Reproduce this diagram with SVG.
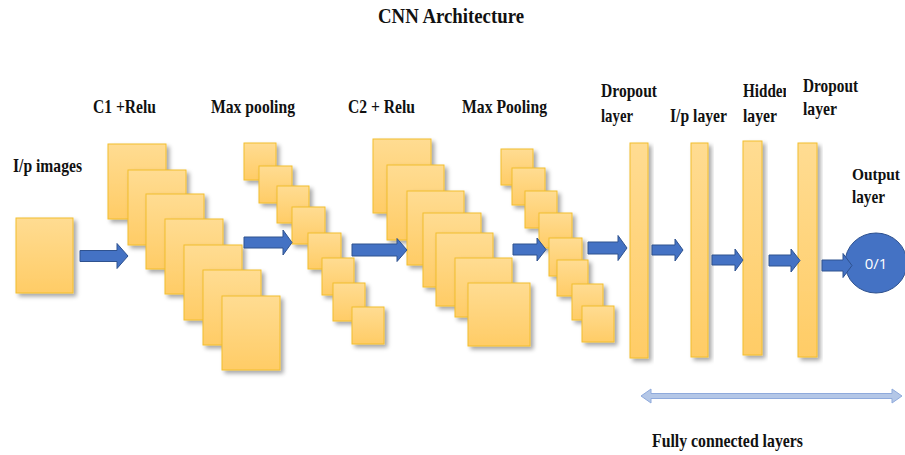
<svg xmlns="http://www.w3.org/2000/svg" width="905" height="455" viewBox="0 0 905 455">
<style>
.lbl{font-family:"Liberation Serif","Times New Roman",serif;font-weight:bold;font-size:19px;fill:#111}
.ttl{font-family:"Liberation Serif","Times New Roman",serif;font-weight:bold;font-size:21px;fill:#111}
.box{fill:url(#gold);stroke:#F2BE2E;stroke-width:1;filter:url(#sh)}
.arr{fill:#4472C4;stroke:#2F528F;stroke-width:1}
.out{fill:#4472C4;stroke:#2F528F;stroke-width:1}
.outt{font-family:"Open Sans","Liberation Sans",sans-serif;font-size:15px;fill:#fff}
.fc{fill:#B4C7E7;stroke:#8FAADC;stroke-width:1}
</style>
<defs>
<linearGradient id="gold" x1="0" y1="0" x2="0" y2="1">
<stop offset="0" stop-color="#FFDC92"/>
<stop offset="1" stop-color="#FFCC66"/>
</linearGradient>
<filter id="sh" x="-20%" y="-20%" width="150%" height="150%">
<feDropShadow dx="3" dy="3" stdDeviation="2" flood-color="#000" flood-opacity="0.35"/>
</filter>
<clipPath id="hidclip"><rect x="700" y="70" width="86" height="40"/></clipPath>
</defs>
<rect width="905" height="455" fill="#fff"/>

<text class="ttl" x="378" y="23" textLength="146" lengthAdjust="spacingAndGlyphs">CNN Architecture</text>

<g id="input">
<rect class="box" x="16" y="218" width="57" height="75"/>
<text class="lbl" x="13" y="172" textLength="69" lengthAdjust="spacingAndGlyphs">I/p images</text>
</g>

<g id="c1">
<text class="lbl" x="93" y="113" textLength="63" lengthAdjust="spacingAndGlyphs">C1 +Relu</text>
<rect class="box" x="108" y="144" width="58" height="75"/>
<rect class="box" x="128" y="170" width="58" height="75"/>
<rect class="box" x="146" y="194" width="58" height="75"/>
<rect class="box" x="165" y="219" width="58" height="75"/>
<rect class="box" x="184" y="245" width="58" height="75"/>
<rect class="box" x="203" y="270" width="58" height="75"/>
<rect class="box" x="222" y="296" width="58" height="74"/>
</g>

<g id="pool1">
<text class="lbl" x="211" y="113" textLength="84" lengthAdjust="spacingAndGlyphs">Max pooling</text>
<rect class="box" x="244" y="143" width="32" height="37"/>
<rect class="box" x="259" y="166" width="33" height="37"/>
<rect class="box" x="277" y="186" width="32" height="37"/>
<rect class="box" x="292" y="207" width="33" height="37"/>
<rect class="box" x="308" y="233" width="33" height="36"/>
<rect class="box" x="322" y="258" width="32" height="37"/>
<rect class="box" x="333" y="283" width="32" height="38"/>
<rect class="box" x="352" y="307" width="32" height="37"/>
</g>

<g id="c2">
<text class="lbl" x="348" y="113" textLength="67" lengthAdjust="spacingAndGlyphs">C2 + Relu</text>
<rect class="box" x="373" y="139" width="58" height="74"/>
<rect class="box" x="387" y="165" width="57" height="75"/>
<rect class="box" x="407" y="191" width="57" height="74"/>
<rect class="box" x="423" y="213" width="58" height="74"/>
<rect class="box" x="436" y="233" width="57" height="73"/>
<rect class="box" x="455" y="258" width="57" height="59"/>
<rect class="box" x="468" y="283" width="62" height="63"/>
</g>

<g id="pool2">
<text class="lbl" x="462" y="113" textLength="85" lengthAdjust="spacingAndGlyphs">Max Pooling</text>
<rect class="box" x="501" y="149" width="32" height="36"/>
<rect class="box" x="512" y="168" width="33" height="37"/>
<rect class="box" x="525" y="191" width="32" height="37"/>
<rect class="box" x="539" y="213" width="33" height="35"/>
<rect class="box" x="549" y="238" width="33" height="38"/>
<rect class="box" x="557" y="260" width="31" height="36"/>
<rect class="box" x="572" y="284" width="31" height="36"/>
<rect class="box" x="582" y="306" width="32" height="36"/>
</g>

<g id="dropout1">
<rect class="box" x="630" y="143" width="18" height="215"/>
<text class="lbl" x="601" y="97" textLength="56" lengthAdjust="spacingAndGlyphs">Dropout</text>
<text class="lbl" x="601" y="122" textLength="32" lengthAdjust="spacingAndGlyphs">layer</text>
</g>

<g id="iplayer">
<rect class="box" x="691" y="143" width="17" height="214"/>
<text class="lbl" x="670" y="122" textLength="57" lengthAdjust="spacingAndGlyphs">I/p layer</text>
</g>

<g id="hidden">
<rect class="box" x="743" y="141" width="19" height="214"/>
<text class="lbl" x="743" y="97" textLength="48" lengthAdjust="spacingAndGlyphs" clip-path="url(#hidclip)">Hidden</text>
<text class="lbl" x="743" y="122" textLength="34" lengthAdjust="spacingAndGlyphs">layer</text>
</g>

<g id="dropout2">
<rect class="box" x="798" y="143" width="19" height="214"/>
<text class="lbl" x="803" y="92" textLength="55" lengthAdjust="spacingAndGlyphs">Dropout</text>
<text class="lbl" x="803" y="115" textLength="34" lengthAdjust="spacingAndGlyphs">layer</text>
</g>

<g id="output">
<text class="lbl" x="852" y="180" style="font-size:17px" textLength="48" lengthAdjust="spacingAndGlyphs">Output</text>
<text class="lbl" x="852" y="203" textLength="33" lengthAdjust="spacingAndGlyphs">layer</text>
<ellipse class="out" cx="876" cy="263" rx="31" ry="30"/>
</g>

<g id="connectors">
<polygon class="arr" points="80,250.5 117,250.5 117,243.5 128,256 117,268.5 117,261.5 80,261.5"/>
<polygon class="arr" points="244,237 283,237 283,230 292,242.5 283,255 283,248 244,248"/>
<polygon class="arr" points="352,244 397,244 397,238.5 407,250 397,261.5 397,256 352,256"/>
<polygon class="arr" points="513,244 537,244 537,238 546,249.5 537,261 537,255 513,255"/>
<polygon class="arr" points="588,242 618,242 618,235.5 627,248 618,260.5 618,254 588,254"/>
<polygon class="arr" points="652,245 675,245 675,239 683,250 675,261 675,255 652,255"/>
<polygon class="arr" points="712,255 735,255 735,249 743,260 735,271 735,265 712,265"/>
<polygon class="arr" points="769,255 791,255 791,249 800,260.5 791,272 791,266 769,266"/>
<polygon class="arr" points="822,260 843,260 843,253.5 852,265.5 843,277.5 843,271 822,271"/>
<polygon class="fc" points="641,396 651,389 651,393.5 892,393.5 892,389 902,396 892,403 892,398.5 651,398.5 651,403"/>
</g>

<text class="outt" x="876" y="269" text-anchor="middle">0/1</text>
<text class="lbl" x="652" y="447" textLength="151" lengthAdjust="spacingAndGlyphs">Fully connected layers</text>
</svg>
